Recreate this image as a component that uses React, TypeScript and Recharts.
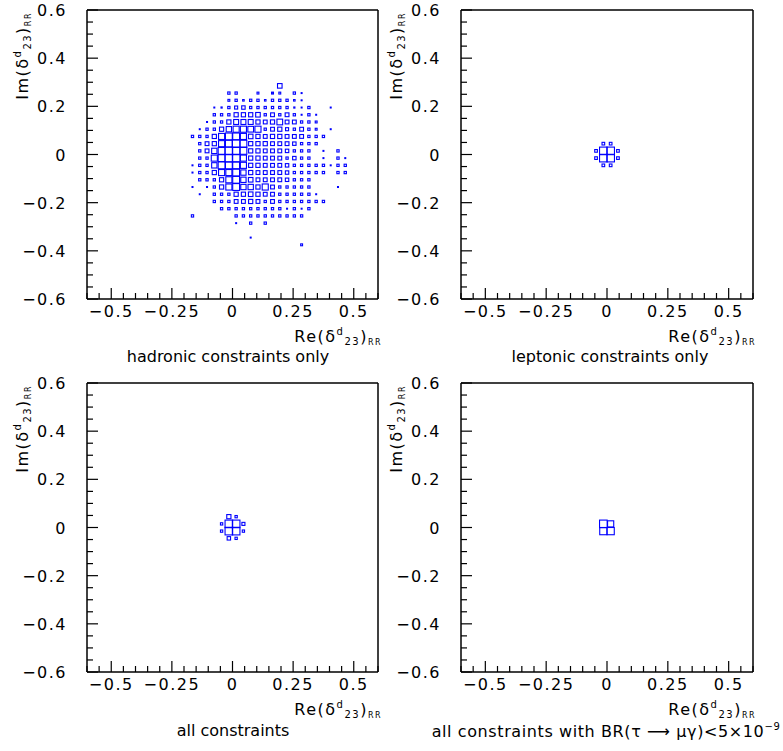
import React from "react";
import { ScatterChart, Scatter, XAxis, YAxis, ZAxis, ReferenceLine } from "recharts";

const FONT = "'DejaVu Sans', sans-serif";
const BLUE = "#0000ff";

// axis ticks (every 0.05), labelled ones separately
const xTicks = [-0.6, -0.55, -0.5, -0.45, -0.4, -0.35, -0.3, -0.25, -0.2, -0.15, -0.1, -0.05, 0, 0.05, 0.1, 0.15, 0.2, 0.25, 0.3, 0.35, 0.4, 0.45, 0.5, 0.55, 0.6];
const xLabels = [-0.5, -0.25, 0, 0.25, 0.5];
const yTicks = [-0.6, -0.55, -0.5, -0.45, -0.4, -0.35, -0.3, -0.25, -0.2, -0.15, -0.1, -0.05, 0, 0.05, 0.1, 0.15, 0.2, 0.25, 0.3, 0.35, 0.4, 0.45, 0.5, 0.55, 0.6];
const yLabels = [-0.6, -0.4, -0.2, 0, 0.2, 0.4, 0.6];

// hadronic: bin centres in x, and box size per bin for each row
const hadronicX = [-0.165, -0.135, -0.105, -0.075, -0.045, -0.015, 0.015, 0.045, 0.075, 0.105, 0.135, 0.165, 0.195, 0.225, 0.255, 0.285, 0.315, 0.345, 0.375, 0.405, 0.435, 0.465];
const hadronicRows: { y: number; s: number[] }[] = [
  { y: 0.285, s: [0, 0, 0, 0, 0, 0, 0, 0, 0, 0, 0, 0, 0.6, 0, 0, 0, 0, 0, 0, 0, 0, 0] },
  { y: 0.255, s: [0, 0, 0, 0, 0, 0.3, 0.3, 0, 0, 0.25, 0, 0.25, 0.25, 0, 0.3, 0.12, 0, 0, 0, 0, 0, 0] },
  { y: 0.225, s: [0, 0, 0, 0, 0, 0.25, 0.3, 0.2, 0.3, 0.3, 0.2, 0.3, 0.3, 0.3, 0.2, 0.12, 0, 0, 0, 0, 0, 0] },
  { y: 0.195, s: [0, 0, 0, 0.12, 0.15, 0.3, 0.4, 0.45, 0.3, 0.3, 0.3, 0.3, 0.3, 0.3, 0.15, 0.12, 0.3, 0, 0, 0.12, 0, 0] },
  { y: 0.165, s: [0, 0, 0, 0.3, 0.3, 0.3, 0.55, 0.55, 0.55, 0.6, 0.3, 0.5, 0.3, 0.5, 0.3, 0.12, 0.3, 0.12, 0, 0, 0, 0] },
  { y: 0.135, s: [0, 0, 0.12, 0.3, 0.3, 0.55, 0.65, 0.65, 0.65, 0.55, 0.5, 0.55, 0.75, 0.5, 0.5, 0.3, 0.3, 0.25, 0, 0, 0, 0] },
  { y: 0.105, s: [0, 0.12, 0.3, 0.3, 0.55, 0.7, 0.8, 0.8, 0.75, 0.8, 0.3, 0.5, 0.55, 0.4, 0.3, 0.5, 0.3, 0.25, 0, 0.12, 0, 0] },
  { y: 0.075, s: [0.3, 0.3, 0.3, 0.55, 0.8, 0.9, 0.9, 0.8, 0.6, 0.55, 0.5, 0.55, 0.55, 0.5, 0.5, 0.5, 0.3, 0.3, 0.3, 0, 0, 0] },
  { y: 0.045, s: [0, 0.3, 0.5, 0.55, 0.8, 0.9, 1, 0.9, 0.55, 0.55, 0.55, 0.5, 0.5, 0.5, 0.45, 0.3, 0.3, 0.3, 0, 0, 0, 0] },
  { y: 0.015, s: [0, 0.3, 0.5, 0.7, 0.9, 1, 1, 0.9, 0.55, 0.55, 0.5, 0.5, 0.5, 0.45, 0.3, 0.3, 0.3, 0, 0.12, 0, 0.3, 0] },
  { y: -0.015, s: [0, 0.3, 0.3, 0.8, 0.9, 1, 1, 0.8, 0.55, 0.55, 0.5, 0.5, 0.5, 0.3, 0.45, 0.3, 0.3, 0, 0.12, 0, 0.3, 0.12] },
  { y: -0.045, s: [0.12, 0.3, 0.3, 0.7, 0.9, 0.9, 0.9, 0.8, 0.55, 0.55, 0.5, 0.5, 0.5, 0.45, 0.3, 0.3, 0.3, 0.3, 0.3, 0.12, 0.3, 0.3] },
  { y: -0.075, s: [0.12, 0.3, 0.3, 0.55, 0.8, 0.8, 0.9, 0.7, 0.55, 0.5, 0.5, 0.5, 0.5, 0.45, 0.3, 0.3, 0.3, 0.3, 0.3, 0, 0.3, 0.3] },
  { y: -0.105, s: [0, 0.3, 0.3, 0.3, 0.55, 0.8, 0.9, 0.7, 0.6, 0.5, 0.5, 0.5, 0.5, 0.45, 0.3, 0.3, 0.3, 0, 0, 0, 0, 0] },
  { y: -0.135, s: [0.12, 0, 0.12, 0.3, 0.55, 0.8, 0.9, 0.7, 0.7, 0.55, 0.8, 0.5, 0.3, 0.3, 0.3, 0.3, 0.3, 0, 0, 0, 0.12, 0] },
  { y: -0.165, s: [0, 0.12, 0, 0.3, 0.3, 0.3, 0.55, 0.55, 0.6, 0.55, 0.5, 0.5, 0.3, 0.3, 0.3, 0.3, 0.3, 0.12, 0, 0, 0, 0] },
  { y: -0.195, s: [0, 0, 0, 0.3, 0.3, 0.3, 0.5, 0.5, 0.55, 0.5, 0.3, 0.5, 0.3, 0.3, 0.3, 0.3, 0.3, 0.3, 0.3, 0, 0, 0] },
  { y: -0.225, s: [0, 0, 0, 0, 0.3, 0.3, 0.3, 0.3, 0.3, 0.3, 0.3, 0.3, 0.3, 0.12, 0.3, 0.12, 0.3, 0, 0, 0, 0, 0] },
  { y: -0.255, s: [0.3, 0, 0, 0, 0, 0, 0.3, 0.3, 0.3, 0.3, 0.3, 0.3, 0.3, 0.3, 0.3, 0.3, 0, 0, 0, 0, 0, 0] },
  { y: -0.285, s: [0, 0, 0, 0, 0, 0, 0.12, 0, 0.3, 0, 0.3, 0, 0, 0, 0, 0, 0, 0, 0, 0, 0, 0] },
  { y: -0.345, s: [0, 0, 0, 0, 0, 0, 0, 0, 0.12, 0, 0, 0, 0, 0, 0, 0, 0, 0, 0, 0, 0, 0] },
  { y: -0.375, s: [0, 0, 0, 0, 0, 0, 0, 0, 0, 0, 0, 0, 0, 0, 0, 0.25, 0, 0, 0, 0, 0, 0] },
];

const leptonic = [
  { x: -0.015, y: 0.015, s: 1 }, { x: 0.015, y: 0.015, s: 1 },
  { x: -0.015, y: -0.015, s: 1 }, { x: 0.015, y: -0.015, s: 1 },
  { x: -0.015, y: 0.045, s: 0.35 }, { x: 0.015, y: 0.045, s: 0.35 },
  { x: -0.045, y: 0.015, s: 0.35 }, { x: -0.045, y: -0.015, s: 0.35 },
  { x: 0.045, y: 0.015, s: 0.35 }, { x: 0.045, y: -0.015, s: 0.35 },
  { x: -0.015, y: -0.045, s: 0.35 }, { x: 0.015, y: -0.045, s: 0.35 },
];

const allConstraints = [
  { x: -0.015, y: 0.015, s: 1 }, { x: 0.015, y: 0.015, s: 1 },
  { x: -0.015, y: -0.015, s: 1 }, { x: 0.015, y: -0.015, s: 1 },
  { x: -0.015, y: 0.045, s: 0.55 }, { x: 0.015, y: 0.045, s: 0.3 },
  { x: -0.045, y: 0.015, s: 0.3 }, { x: -0.045, y: -0.015, s: 0.3 },
  { x: 0.045, y: 0.015, s: 0.4 }, { x: 0.045, y: -0.015, s: 0.3 },
  { x: -0.015, y: -0.045, s: 0.45 }, { x: 0.015, y: -0.045, s: 0.3 },
];

const withBR = [
  { x: -0.015, y: 0.015, s: 1.05 }, { x: 0.015, y: 0.015, s: 0.85 },
  { x: -0.015, y: -0.015, s: 1 }, { x: 0.015, y: -0.015, s: 1 },
];

const hadronic = hadronicRows.flatMap((r) =>
  r.s.map((s, i) => ({ x: hadronicX[i], y: r.y, s })).filter((p) => p.s > 0)
);

const textStyle: React.CSSProperties = { fontFamily: FONT, fontSize: 16, letterSpacing: 1.5, fill: "#000" };
const titleStyle: React.CSSProperties = { fontFamily: FONT, fontSize: 16, letterSpacing: 0, fill: "#000" };

const fmt = (v: number) => (v < 0 ? "\u2212" + String(-v) : String(v));
const isIn = (list: number[], v: number) => list.some((l) => Math.abs(l - v) < 1e-9);

function XTick(props: any) {
  const { x, y, payload } = props;
  const major = isIn(xLabels, payload.value);
  return (
    <g>
      <line x1={x} x2={x} y1={y} y2={y - (major ? 11 : 6)} stroke="#000" strokeWidth={1.2} />
      {major && (
        <text x={x} y={y + 18} textAnchor="middle" style={textStyle}>
          {fmt(payload.value)}
        </text>
      )}
    </g>
  );
}

function YTick(props: any) {
  const { x, y, payload } = props;
  const major = isIn(yLabels, payload.value);
  return (
    <g>
      <line x1={x} x2={x + (major ? 11 : 6)} y1={y} y2={y} stroke="#000" strokeWidth={1.2} />
      {major && (
        <text x={x - 20} y={y + 6} textAnchor="end" style={textStyle}>
          {fmt(payload.value)}
        </text>
      )}
    </g>
  );
}

const renderBox = (props: any) => {
  const { cx, cy, size, payload } = props;
  const side = typeof size === "number" ? size : payload.s * 7.6;
  if (cx == null || cy == null || !side) return <g />;
  return (
    <rect x={cx - side / 2} y={cy - side / 2} width={side} height={side} fill="none" stroke={BLUE} strokeWidth={1.1} />
  );
};

interface PanelProps {
  data: { x: number; y: number; s: number }[];
  left: number;
  top: number;
  width: number;
  height: number;
  right: number;
  bottom: number;
}

function Panel({ data, left, top, width, height, right, bottom }: PanelProps) {
  return (
    <div style={{ position: "absolute", left, top }}>
      <ScatterChart width={width} height={height} margin={{ top: 10, right, bottom, left: 47 }}>
        <XAxis
          type="number"
          dataKey="x"
          domain={[-0.6, 0.6]}
          ticks={xTicks}
          interval={0}
          tick={XTick}
          tickLine={false}
          tickSize={0}
          tickMargin={0}
          height={30}
          axisLine={{ stroke: "#000", strokeWidth: 1.5 }}
          allowDataOverflow
        />
        <YAxis
          type="number"
          dataKey="y"
          domain={[-0.6, 0.6]}
          ticks={yTicks}
          interval={0}
          tick={YTick}
          tickLine={false}
          tickSize={0}
          tickMargin={0}
          width={40}
          axisLine={{ stroke: "#000", strokeWidth: 1.5 }}
          allowDataOverflow
        />
        <ZAxis type="number" dataKey="s" domain={[0, 1]} range={[0, 7.6]} />
        <ReferenceLine y={0.6} stroke="#000" strokeWidth={1.5} />
        <ReferenceLine x={0.6} stroke="#000" strokeWidth={1.5} />
        <Scatter data={data} shape={renderBox} isAnimationActive={false} />
      </ScatterChart>
    </div>
  );
}

function Delta({ x, y, prefix, rotate }: { x: number; y: number; prefix: string; rotate?: boolean }) {
  return (
    <text x={x} y={y} textAnchor="end" style={textStyle} transform={rotate ? `rotate(-90 ${x} ${y})` : undefined}>
      {prefix}(δ
      <tspan dy={-7} fontSize={10}>d</tspan>
      <tspan dy={10} fontSize={10}>23</tspan>
      <tspan dy={-3}>)</tspan>
      <tspan dy={3} fontSize={8}>RR</tspan>
    </text>
  );
}

export default function App() {
  return (
    <div style={{ position: "absolute", left: 0, top: 0, width: 783, height: 751, background: "#fff" }}>
      <Panel data={hadronic} left={0} top={0} width={391} height={373} right={13} bottom={44} />
      <Panel data={leptonic} left={374} top={0} width={409} height={373} right={30} bottom={44} />
      <Panel data={allConstraints} left={0} top={373} width={391} height={378} right={13} bottom={49} />
      <Panel data={withBR} left={374} top={373} width={409} height={378} right={30} bottom={49} />
      <svg width={783} height={751} style={{ position: "absolute", left: 0, top: 0, pointerEvents: "none" }}>
        <Delta x={28} y={12} prefix="Im" rotate />
        <Delta x={402} y={12} prefix="Im" rotate />
        <Delta x={28} y={385} prefix="Im" rotate />
        <Delta x={402} y={385} prefix="Im" rotate />
        <Delta x={382} y={342} prefix="Re" />
        <Delta x={756} y={342} prefix="Re" />
        <Delta x={382} y={715} prefix="Re" />
        <Delta x={756} y={715} prefix="Re" />
        <text x={228} y={362} textAnchor="middle" style={titleStyle}>hadronic constraints only</text>
        <text x={610} y={362} textAnchor="middle" style={titleStyle}>leptonic constraints only</text>
        <text x={233} y={736} textAnchor="middle" style={titleStyle}>all constraints</text>
        <text x={606} y={737} textAnchor="middle" style={{ ...titleStyle, letterSpacing: 0.6 }}>
          all constraints with BR(τ{" \u27F6 "}μγ){"<"}5×10
          <tspan dy={-7} fontSize={10}>−9</tspan>
        </text>
      </svg>
    </div>
  );
}
